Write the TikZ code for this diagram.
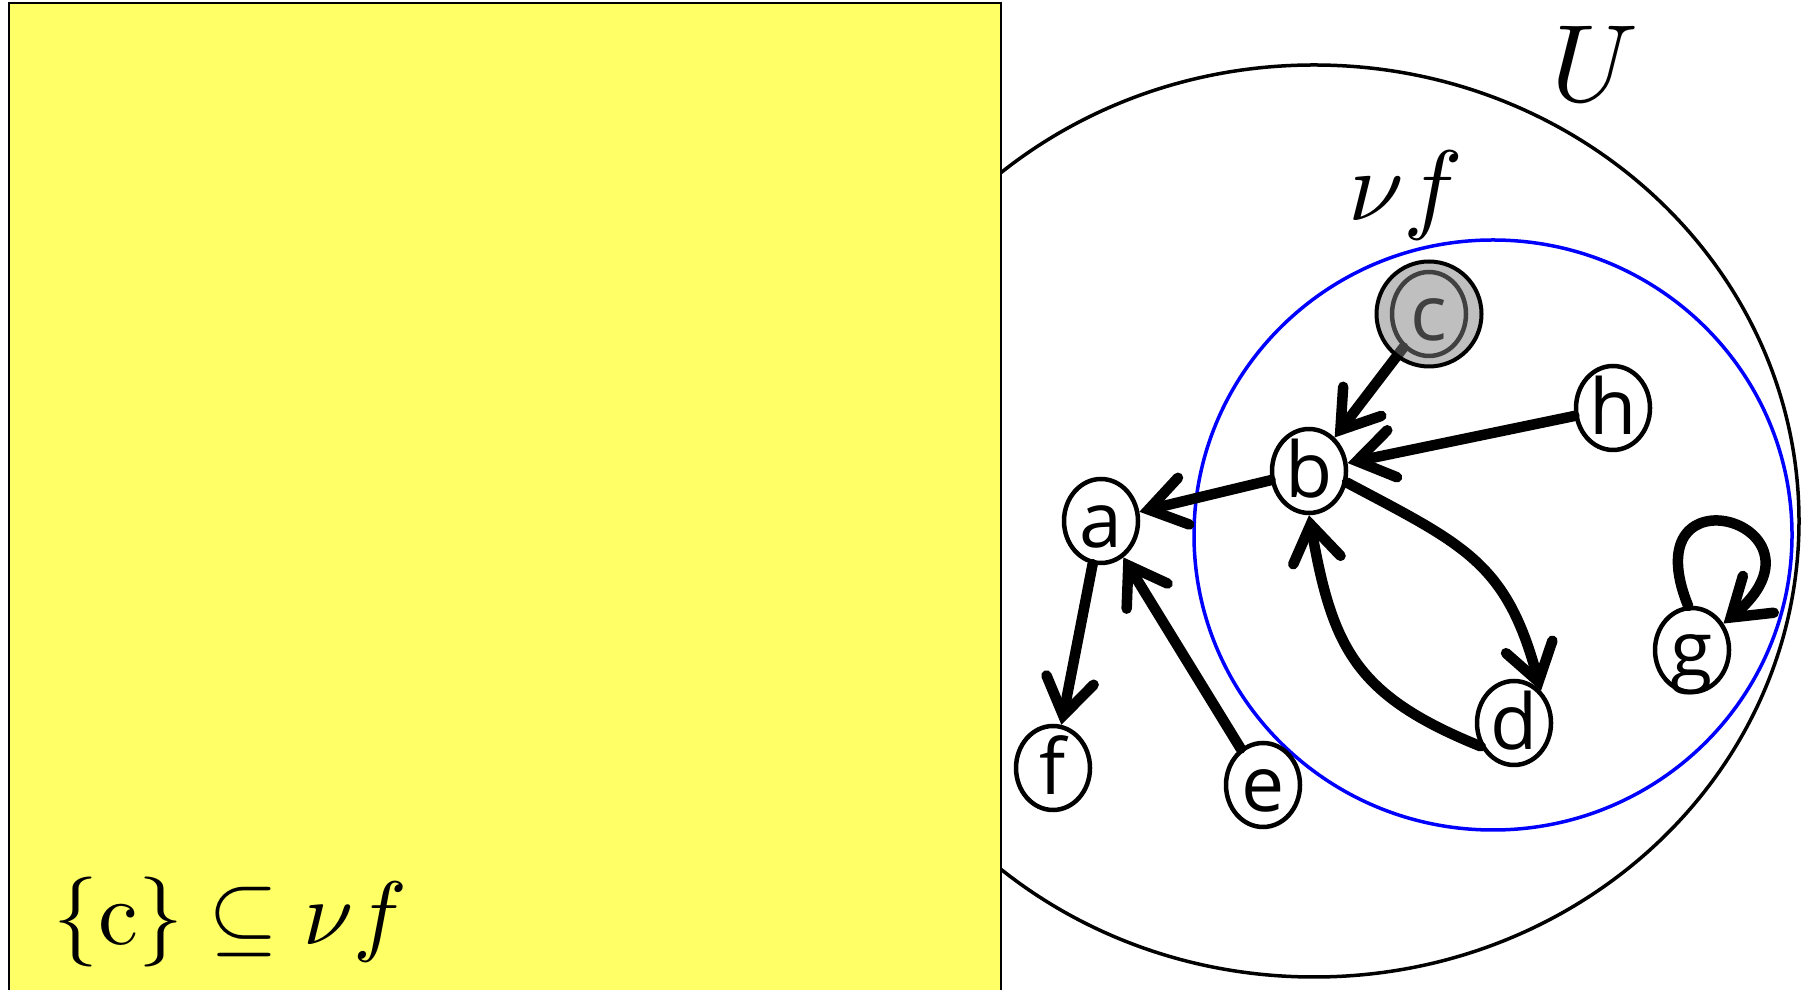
\documentclass[tikz,border=0pt]{standalone}
\usepackage{fontspec}
\usepackage{tikz}
\usetikzlibrary{arrows.meta,shapes.geometric}
\newfontfamily\vertfont{Open Sans}
\definecolor{paleyellow}{RGB}{255,255,102}
\definecolor{setblue}{RGB}{0,0,255}

\begin{document}
\begin{tikzpicture}[
  x=1pt, y=1pt,
  vert/.style={draw, ellipse, line width=4.5pt, fill=white, minimum width=74pt, minimum height=84pt, inner sep=0pt, text height=53pt, text depth=0pt, font=\fontsize{77}{84}\vertfont},
  arrow/.style={-{Straight Barb[length=36pt, width=48pt, line cap=round]}, line width=10.5pt, line cap=round},
  setlabel/.style={inner sep=0pt}
]
  \useasboundingbox (0,0) rectangle (1812,990);
  \clip (0,0) rectangle (1812,990);
  % universe and the set
  \draw[line width=3.5pt] (1314,469) ellipse (485 and 456);
  \draw[line width=2pt, fill=paleyellow] (9,-10) rectangle (1001,987);
  \draw[setblue, line width=3.5pt] (1493,455) ellipse (299 and 295);
  \node[setlabel, scale=11] (ulabel) at (1595,926) {$U$};
  \node[setlabel, scale=10] (nulabel) at (1406,794) {$\nu f$};
  \node[setlabel, scale=9, anchor=west] (incl) at (52,68) {$\{\mathrm{c}\}\subseteq\nu f$};

  % vertices
  \node[vert] (c) at (1429,676) {c};
  \node[vert] (h) at (1613,582) {h};
  \node[vert] (b) at (1309,519) {b};
  \node[vert] (a) at (1101,469) {a};
  \node[vert] (f) at (1053,222) {f};
  \node[vert] (e) at (1263,205) {e};
  \node[vert] (d) at (1514,267) {d};
  \node[vert] (g) at (1692,340) {g};

  \draw[arrow] (c) -- (b);
  \draw[arrow] (h) -- (b);
  \draw[arrow] (b) -- (a);
  \draw[arrow] (a) -- (f);
  \draw[arrow] (e) -- (a);
  \draw[arrow] (b.-17) to[out=-28, in=105, looseness=1.2] (d.50);
  \draw[arrow] (d.215) to[out=158, in=-80, looseness=1.2] (b.270);
  \draw[arrow] (g.95) to[out=112, in=40, distance=155pt] (g.40);

  \node[draw, circle, line width=4pt, minimum size=105pt, fill=gray, fill opacity=0.5, draw opacity=1] (cmark) at (c) {};
\end{tikzpicture}
\end{document}
